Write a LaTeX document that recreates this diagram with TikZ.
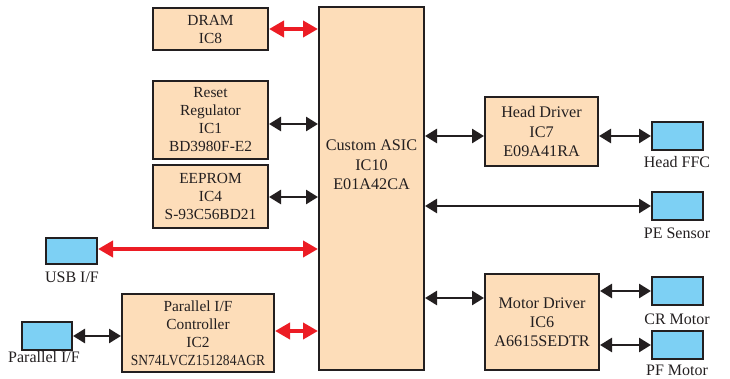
\documentclass[tikz,border=0pt]{standalone}
\usepackage{fontspec}
\setmainfont{Liberation Serif}
\usetikzlibrary{arrows.meta}
\definecolor{chipfill}{HTML}{FDDDB9}
\definecolor{portfill}{HTML}{7DD0F4}
\definecolor{edge}{HTML}{231F20}
\definecolor{busred}{HTML}{EC1C24}
\tikzset{
  chip/.style={draw=edge, line width=2pt, fill=chipfill, inner sep=0pt,
    align=center, font=\fontsize{15.4}{18}\selectfont, text=edge},
  bigchip/.style={chip, font=\fontsize{16.2}{19.2}\selectfont},
  chiptext/.style={align=center, font=\fontsize{16.2}{19.5}\selectfont, text=edge, inner sep=0pt},
  port/.style={draw=edge, line width=2pt, fill=portfill, inner sep=0pt},
  lbl/.style={font=\fontsize{16}{19}\selectfont, text=edge, inner sep=0pt},
  link/.style={line width=2.6pt, draw=edge,
    {Triangle[length=12pt,width=14pt]}-{Triangle[length=12pt,width=14pt]}},
  redlink/.style={line width=4pt, draw=busred,
    {Triangle[length=15pt,width=16pt]}-{Triangle[length=15pt,width=16pt]}},
}
\begin{document}
\begin{tikzpicture}[x=1pt,y=-1pt]
\useasboundingbox (0,0) rectangle (730,379);
% chips
\node[chip, minimum width=105pt, minimum height=363pt] (asic) at (371.5,188.5) {};
\node[chiptext] (asictext) at (371.5,165) {Custom ASIC\\IC10\\E01A42CA};
\node[chip, minimum width=115pt, minimum height=42pt] (dram) at (210.5,29) {DRAM\\IC8};
\node[chip, minimum width=115pt, minimum height=78pt] (reset) at (210.5,120) {Reset\\Regulator\\IC1\\BD3980F-E2};
\node[chip, minimum width=115pt, minimum height=63pt] (eeprom) at (210.5,196.5) {EEPROM\\IC4\\S-93C56BD21};
\node[chip, minimum width=152pt, minimum height=78pt] (pctl) at (198,333) {Parallel I/F\\Controller\\IC2\\\scalebox{0.88}[1]{SN74LVCZ151284AGR}};
\node[bigchip, minimum width=113pt, minimum height=69pt] (head) at (541.5,131.5) {Head Driver\\IC7\\E09A41RA};
\node[bigchip, minimum width=114pt, minimum height=96pt] (motor) at (542,322) {Motor Driver\\IC6\\A6615SEDTR};
% connectors and sensors
\node[port, minimum width=51pt, minimum height=26pt] (usb) at (71.5,251) {};
\node[port, minimum width=50pt, minimum height=28pt] (par) at (47,336) {};
\node[port, minimum width=51pt, minimum height=28pt] (ffc) at (677.5,136) {};
\node[port, minimum width=51pt, minimum height=28pt] (pe) at (677.5,206) {};
\node[port, minimum width=51pt, minimum height=28pt] (cr) at (677.5,291) {};
\node[port, minimum width=51pt, minimum height=28pt] (pf) at (677.5,345) {};
% captions
\node[lbl, anchor=base] (usbl) at (72,282) {USB I/F};
\node[lbl, anchor=base] (parl) at (44,362) {Parallel I/F};
\node[lbl, anchor=base] (ffcl) at (677,168) {Head FFC};
\node[lbl, anchor=base] (pel) at (677,239) {PE Sensor};
\node[lbl, anchor=base] (crl) at (677,324) {CR Motor};
\node[lbl, anchor=base] (pfl) at (677,375) {PF Motor};
% buses
\draw[redlink] (dram.east |- 0,29) -- (asic.west |- 0,29);
\draw[link] (reset.east |- 0,124) -- (asic.west |- 0,124);
\draw[link] (eeprom.east |- 0,197) -- (asic.west |- 0,197);
\draw[redlink] (usb.east |- 0,249) -- (asic.west |- 0,249);
\draw[redlink] (pctl.east |- 0,331) -- (asic.west |- 0,331);
\draw[link] (par.east |- 0,336) -- (pctl.west |- 0,336);
\draw[link] (asic.east |- 0,136) -- (head.west |- 0,136);
\draw[link] (head.east |- 0,136) -- (ffc.west);
\draw[link] (asic.east |- 0,206) -- (pe.west);
\draw[link] (asic.east |- 0,298) -- (motor.west |- 0,298);
\draw[link] (motor.east |- 0,291) -- (cr.west);
\draw[link] (motor.east |- 0,345) -- (pf.west);
\end{tikzpicture}
\end{document}
